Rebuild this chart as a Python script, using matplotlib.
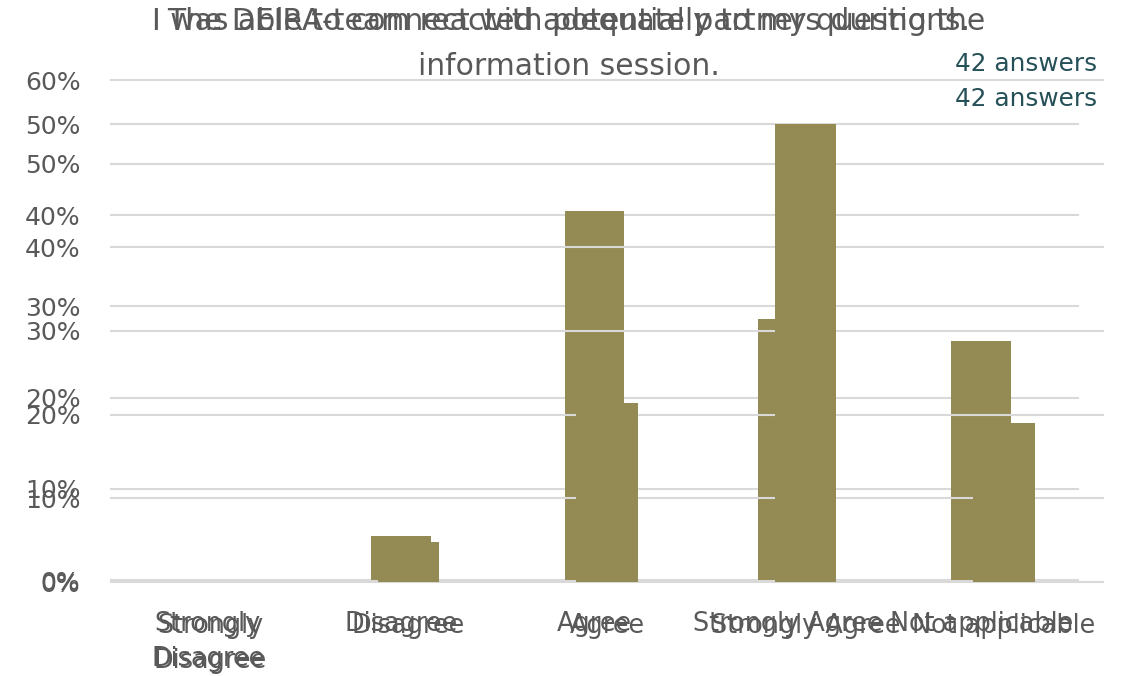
import matplotlib.pyplot as plt
from matplotlib.ticker import FuncFormatter

plt.rcParams['font.family'] = ['DejaVu Sans']

# two survey charts exported on top of each other
categorias = ["Strongly\nDisagree", "Disagree", "Agree", "Strongly Agree", "Not applicable"]

titulo_socios = "I was able to connect with potential partners during the\ninformation session."
pct_socios = [0.0, 4.8, 21.4, 54.8, 19.0]
ticks_socios = [0, 10, 20, 30, 40, 50, 60]

titulo_preguntas = "The DEIRA-team reacted adequately to my questions."
pct_preguntas = [0.0, 4.8, 40.5, 28.6, 26.2]
ticks_preguntas = [0, 10, 20, 30, 40, 50]

respuestas = "42 answers"

W, H = 1122, 676
COLOR_BARRA = '#948A54'
COLOR_GRID = '#D9D9D9'
COLOR_TEXTO = '#595959'
COLOR_RESP = '#265058'


def caja(x0, y0, x1, y1):
    # pixeles (origen arriba-izquierda) -> coordenadas de figura
    return [x0 / W, (H - y1) / H, (x1 - x0) / W, (y1 - y0) / H]


def dibujar(ax, valores, ticks):
    x = range(len(categorias))
    ax.bar(x, valores, width=0.31, color=COLOR_BARRA, zorder=2)
    ax.set_xlim(-0.5, len(categorias) - 0.5)
    ax.set_ylim(0, ticks[-1])
    ax.set_yticks(ticks)
    ax.yaxis.set_major_formatter(FuncFormatter(lambda v, p: f"{v:.0f}%"))
    ax.set_xticks(list(x))
    ax.set_xticklabels(categorias, fontsize=18.4, color=COLOR_TEXTO, linespacing=1.45)
    ax.tick_params(axis='y', length=0, pad=22, labelsize=18, labelcolor=COLOR_TEXTO)
    ax.tick_params(axis='x', length=0, pad=22)
    ax.grid(axis='y', color=COLOR_GRID, linewidth=1.5, zorder=1)
    ax.set_axisbelow(True)
    for s in ax.spines.values():
        s.set_visible(False)
    ax.set_facecolor('none')
    for gl in ax.get_ygridlines():
        gl.set_clip_on(False)


fig = plt.figure(figsize=(W / 100, H / 100), dpi=100)

ax_preg = fig.add_axes(caja(111, 124, 1078, 580))
dibujar(ax_preg, pct_preguntas, ticks_preguntas)

ax_soc = fig.add_axes(caja(111, 80, 1103, 582))
dibujar(ax_soc, pct_socios, ticks_socios)

fig.text(569 / W, 1 - 7 / H, titulo_socios, ha='center', va='top',
         fontsize=21.5, color=COLOR_TEXTO, linespacing=1.68)
fig.text(569 / W, 1 - 7 / H, titulo_preguntas, ha='center', va='top',
         fontsize=21.5, color=COLOR_TEXTO)

fig.text(1097 / W, 1 - 71 / H, respuestas, ha='right', va='baseline',
         fontsize=17.8, color=COLOR_RESP)
fig.text(1097 / W, 1 - 106 / H, respuestas, ha='right', va='baseline',
         fontsize=17.8, color=COLOR_RESP)

fig.savefig('out.png', dpi=100)
